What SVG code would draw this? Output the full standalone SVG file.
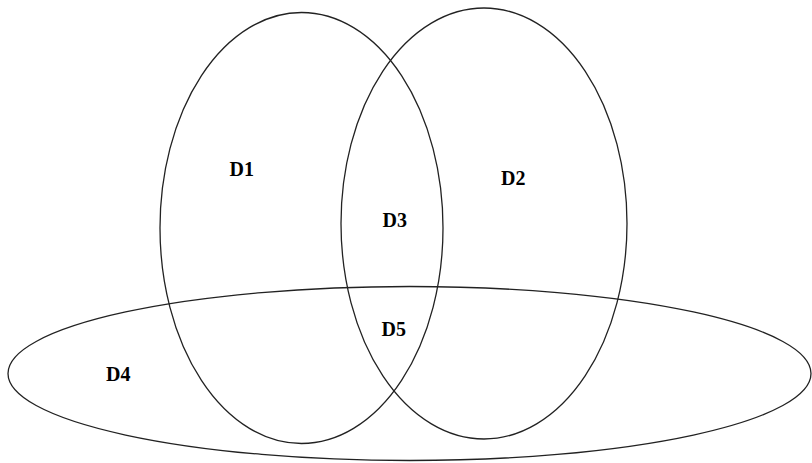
<svg xmlns="http://www.w3.org/2000/svg" width="812" height="463" viewBox="0 0 812 463">
<style>
.e{fill:none;stroke:#222;stroke-width:1.3}
.t{font-family:"Liberation Serif","Times New Roman",serif;font-weight:bold;font-size:20px;fill:#000}
</style>
<rect width="812" height="463" fill="#fff"/>
<g id="D1"><ellipse class="e" cx="301.5" cy="228" rx="141.5" ry="215.5"/><text class="t" x="229.5" y="176">D1</text></g>
<g id="D2"><ellipse class="e" cx="484" cy="223.5" rx="143" ry="215.5"/><text class="t" x="501" y="185">D2</text></g>
<g id="D4"><ellipse class="e" cx="409.5" cy="373.5" rx="401.5" ry="87"/><text class="t" x="106" y="381">D4</text></g>
<g id="D3"><text class="t" x="382.5" y="226.5">D3</text></g>
<g id="D5"><text class="t" x="381.5" y="335.5">D5</text></g>
<g id="connectors"/>
</svg>
